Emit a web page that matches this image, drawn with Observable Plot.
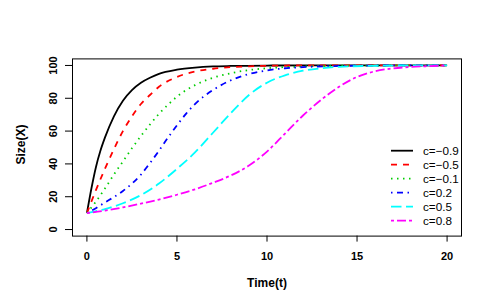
<!DOCTYPE html>
<html>
<head>
<meta charset="utf-8">
<script src="https://cdn.jsdelivr.net/npm/d3@7"></script>
<script src="https://cdn.jsdelivr.net/npm/@observablehq/plot@0.6"></script>
<style>
  html, body { margin: 0; padding: 0; background: #fff; }
  #chart svg { display: block; }
</style>
</head>
<body>
<div id="chart"></div>
<script>
// ---- data ----
const seriesLabels = ["c=\u22120.9", "c=\u22120.5", "c=\u22120.1", "c=0.2", "c=0.5", "c=0.8"];

const tBlack = [0, 0.25, 0.5, 0.75, 1, 1.5, 2, 2.5, 3, 3.5, 4, 5, 6, 7, 8, 10, 12, 15, 20];
const xBlack = [10, 25, 38, 48, 56, 69, 78.5, 85, 89.5, 92.5, 94.9, 97.4, 98.7, 99.4, 99.7, 99.95, 100, 100, 100];

const tRed = [0, 0.5, 1, 1.5, 2, 2.5, 3, 3.5, 4, 5, 6, 7, 8, 9, 10, 12, 15, 20];
const xRed = [10, 24, 37, 49, 60, 69, 76.5, 82, 87, 93, 96.3, 98, 99, 99.5, 99.8, 100, 100, 100];

const tGreen = [0, 0.5, 1, 1.5, 2, 2.5, 3, 3.5, 4, 4.5, 5, 6, 7, 8, 9, 10, 12, 14, 17, 20];
const xGreen = [10, 17, 25, 33.5, 41.5, 49.5, 57, 64, 70.5, 76, 81, 88, 92.5, 95.3, 97.2, 98.3, 99.4, 99.8, 100, 100];

const tBlue = [0, 0.5, 1, 1.5, 2, 2.5, 3, 3.5, 4, 4.5, 5, 5.5, 6, 7, 8, 9, 10, 11, 12, 14, 17, 20];
const xBlue = [10, 13, 16.5, 19.8, 23.5, 28, 33.5, 40.5, 48, 56, 63.5, 70.5, 76.5, 85, 91, 94.8, 97, 98.3, 99, 99.7, 100, 100];

const tCyan = [0, 1, 2, 3, 4, 5, 6, 7, 8, 9, 10, 11, 12, 13, 14, 16, 18, 20];
const xCyan = [10, 12.5, 16, 21, 28, 37, 47, 59, 71, 82, 89.5, 94, 96.8, 98.3, 99.2, 99.8, 100, 100];

const tMagenta = [0, 1, 2, 3, 4, 5, 6, 7, 8, 9, 10, 11, 12, 13, 14, 15, 16, 17, 18, 19, 20];
const xMagenta = [10, 11.5, 13.5, 15.8, 18.3, 21.2, 24.5, 28.5, 33, 39, 47.5, 58.5, 69.5, 79, 87, 93, 96.5, 98.2, 99.1, 99.6, 100];

const xTicks = [0, 5, 10, 15, 20];
const yTicks = [0, 20, 40, 60, 80, 100];
const xLabel = "Time(t)";
const yLabel = "Size(X)";

// ---- styles ----
const colors = ["#000000", "#FF0000", "#00CD00", "#0000FF", "#00FFFF", "#FF00FF"];
const dashes = [null, "6,6", "1.5,4.5", "1.5,4.5,6,4.5", "10.5,4.5", "3,3,9,3"];

const tArrays = [tBlack, tRed, tGreen, tBlue, tCyan, tMagenta];
const xArrays = [xBlack, xRed, xGreen, xBlue, xCyan, xMagenta];
const series = seriesLabels.map((label, i) => ({
  label,
  rows: tArrays[i].map((t, j) => ({ t, X: xArrays[i][j], series: label }))
}));

const W = 491, H = 307;
const mL = 72, mR = 30, mT = 58.4, mB = 71.4;

const chart = Plot.plot({
  width: W,
  height: H,
  marginLeft: mL,
  marginRight: mR,
  marginTop: mT,
  marginBottom: mB,
  style: { fontFamily: "'Liberation Sans', Arial, sans-serif", background: "#fff", color: "#000" },
  x: { domain: [-0.8, 20.8] },
  y: { domain: [-4, 104] },
  marks: [
    ...series.map((s, i) => Plot.line(s.rows, {
      x: "t", y: "X", stroke: colors[i], strokeWidth: 1.8,
      strokeDasharray: dashes[i], curve: "monotone-x", strokeLinecap: "butt"
    })),
    Plot.frame({ stroke: "#000", strokeWidth: 1 }),
    Plot.axisX({ ticks: xTicks, tickSize: 6, tickFormat: () => "", label: null }),
    Plot.axisY({ ticks: yTicks, tickSize: 7, tickFormat: () => "", label: null }),
    Plot.text(xTicks, { x: d => d, frameAnchor: "bottom", dy: 20.5, lineAnchor: "middle",
      text: d => String(d), fontSize: 11, fontWeight: "bold" }),
    Plot.text(yTicks, { y: d => d, frameAnchor: "left", dx: -19, rotate: -90, textAnchor: "middle",
      lineAnchor: "middle", text: d => String(d), fontSize: 11, fontWeight: "bold" }),
    Plot.text([xLabel], { frameAnchor: "bottom", dy: 47.5, lineAnchor: "middle", text: d => d,
      fontSize: 12, fontWeight: "bold" }),
    Plot.text([yLabel], { frameAnchor: "left", dx: -51, dy: -3, rotate: -90, textAnchor: "middle",
      lineAnchor: "middle", text: d => d, fontSize: 12, fontWeight: "bold" })
  ]
});

document.getElementById("chart").appendChild(chart);

// legend (bottom-right, no box)
const svg = d3.select(chart);
const lg = svg.append("g")
  .attr("font-family", "'Liberation Sans', Arial, sans-serif")
  .attr("font-size", 11.7)
  .attr("text-anchor", "start");
seriesLabels.forEach((label, i) => {
  const y = 150.7 + i * 14;
  lg.append("line").attr("x1", 391).attr("x2", 413).attr("y1", y).attr("y2", y)
    .attr("stroke", colors[i]).attr("stroke-width", 1.8)
    .attr("stroke-dasharray", dashes[i]);
  lg.append("text").attr("x", 423).attr("y", y).attr("dy", "0.35em")
    .attr("text-anchor", "start").attr("fill", "#000").text(label);
});
</script>
</body>
</html>
